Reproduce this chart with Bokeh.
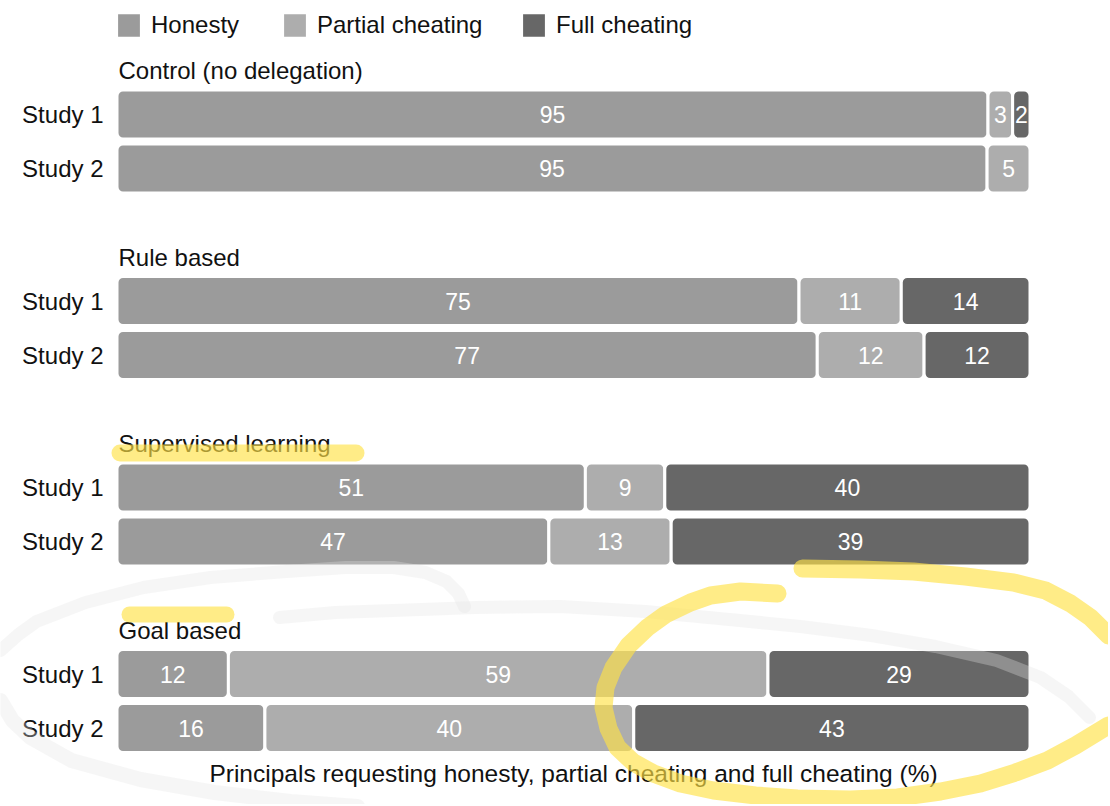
from bokeh.plotting import figure
from bokeh.models import ColumnDataSource, Range1d, Legend, LegendItem
from bokeh.core.properties import value
from bokeh.embed import file_html
from bokeh.resources import INLINE

# ---------------- data ----------------
groups = ["Control (no delegation)", "Rule based", "Supervised learning", "Goal based"]
studies = ["Study 1", "Study 2"]
categories = ["Honesty", "Partial cheating", "Full cheating"]
# order: (group0 study1, group0 study2, group1 study1, ...)
honesty = [95.4, 95.3, 74.7, 76.7, 51.3, 47.3, 12.2, 16.2]
partial = [2.7, 4.7, 11.2, 11.7, 8.7, 13.4, 59.1, 40.4]
full = [1.9, 0.0, 14.1, 11.6, 40.0, 39.3, 28.7, 43.4]
axis_title = "Principals requesting honesty, partial cheating and full cheating (%)"

# ---------------- style / layout ----------------
colors = ["#9b9b9b", "#adadad", "#676767"]
FONT = "Liberation Sans"
W, H = 1108, 804
PX = 9.13         # pixels per percent
X0 = 116.5        # canvas x of 0 %
ROW0 = 114        # canvas y of first bar centre
GROUP_STEP = 186.5
STUDY_STEP = 54

p = figure(width=W, height=H, output_backend="svg", toolbar_location=None,
           x_range=Range1d(-X0 / PX, (W - X0) / PX), y_range=Range1d(H, 0),
           x_axis_type=None, y_axis_type=None, min_border=0,
           outline_line_color=None, background_fill_color="white",
           border_fill_color="white")
p.xgrid.visible = False
p.ygrid.visible = False

series = [honesty, partial, full]
rows_y, rows_study = [], []
for g in range(len(groups)):
    for s in range(len(studies)):
        rows_y.append(ROW0 + g * GROUP_STEP + s * STUDY_STEP)
        rows_study.append(studies[s])

renderers = []
lab_x, lab_y, lab_t = [], [], []
cum = [0.0] * len(rows_y)
for ci, vals in enumerate(series):
    ys, ls, rs = [], [], []
    for i, v in enumerate(vals):
        if v <= 0:
            continue
        ys.append(rows_y[i]); ls.append(cum[i]); rs.append(cum[i] + v)
        lab_x.append(cum[i] + v / 2); lab_y.append(rows_y[i])
        lab_t.append(str(int(round(v))))
    for i, v in enumerate(vals):
        cum[i] += v
    src = ColumnDataSource(dict(y=ys, left=ls, right=rs))
    r = p.hbar(y="y", left="left", right="right", height=49, source=src,
               fill_color=colors[ci], line_color="white", line_width=3,
               border_radius=6)
    renderers.append(r)

# value labels
p.text(x=lab_x, y=lab_y, text=lab_t, text_color="white", text_align="center",
       text_baseline="middle", text_font=value(FONT), text_font_size="23px")

# study labels
p.text(x=[0] * len(rows_y), y=rows_y, text=rows_study,
       x_offset=-13.5, text_align="right", text_baseline="middle",
       text_color="#111111", text_font=value(FONT), text_font_size="24px")

# group titles
p.text(x=[0] * len(groups), y=[ROW0 - 44 + g * GROUP_STEP for g in range(len(groups))],
       text=groups, x_offset=1.5, text_align="left", text_baseline="middle",
       text_color="#111111", text_font=value(FONT), text_font_size="24px")

# x axis title
p.text(x=[50], y=[773], text=[axis_title], text_align="center",
       text_baseline="middle", text_color="#111111",
       text_font=value(FONT), text_font_size="24.5px")

# legends (one per item, placed individually)
GW, GH = 31, 32
leg_x = [113, 279, 518]
for i, (r, cat) in enumerate(zip(renderers, categories)):
    lg = Legend(items=[LegendItem(label=value(cat), renderers=[r])],
                location=(leg_x[i], H - 41), orientation="horizontal",
                padding=0, margin=0, border_line_color=None,
                background_fill_alpha=0, glyph_width=GW, glyph_height=GH,
                label_standoff=7, label_height=GH,
                label_text_font=FONT, label_text_font_size="24px",
                label_text_color="#111111")
    p.add_layout(lg)

# ---------------- hand-drawn marks over the screenshot (decoration, page px) ----------------
def to_data(pts):
    xs = [(px - X0) / PX for px, _ in pts]
    ys = [py for _, py in pts]
    return xs, ys

grey_marks = [
    ([(0, 650), (18, 634), (36, 621), (85, 602), (143, 587), (210, 577), (286, 571),
      (345, 567), (393, 567), (425, 572), (446, 581), (458, 593), (464, 606)], 13),
    ([(279, 617), (335, 612), (393, 610), (475, 607), (560, 606), (645, 611),
      (729, 619), (800, 626), (871, 635), (935, 646), (996, 660), (1040, 677),
      (1068, 696), (1089, 717)], 13),
    ([(0, 700), (12, 720), (30, 737), (71, 760), (140, 779), (214, 792), (290, 801),
      (357, 806)], 15),
]
for pts, w in grey_marks:
    xs, ys = to_data(pts)
    p.line(xs, ys, line_color="#e4e4e4", line_alpha=0.32, line_width=w,
           line_cap="round", line_join="round")

yellow_marks = [
    ([(119.5, 452.5), (355.5, 452.5)], 17),
    ([(129, 614), (226, 614)], 16),
    ([(802, 568), (860, 569), (913, 571), (965, 576), (1013, 582), (1045, 590),
      (1070, 603), (1090, 617), (1108, 635)], 18),
    ([(777, 593), (740, 591), (710, 595), (690, 602), (665, 614), (647, 627),
      (628, 645), (613, 667), (605, 687), (603, 707), (608, 728), (617, 747),
      (633, 762), (653, 773), (680, 783), (713, 790), (755, 795), (797, 798),
      (850, 799), (897, 797), (940, 791), (980, 783), (1015, 772), (1047, 760),
      (1075, 745), (1108, 725)], 18),
]
for pts, w in yellow_marks:
    xs, ys = to_data(pts)
    p.line(xs, ys, line_color="#ffe246", line_alpha=0.65, line_width=w,
           line_cap="round", line_join="round")

open("out.html", "w").write(file_html(p, INLINE))
